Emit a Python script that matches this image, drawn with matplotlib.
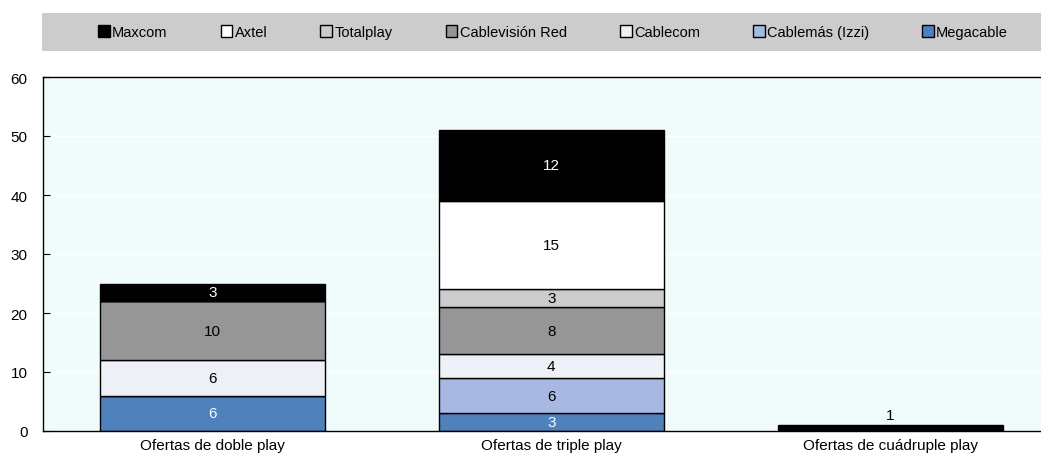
import matplotlib
matplotlib.use("Agg")
import matplotlib.pyplot as plt
from matplotlib.patches import Rectangle
from matplotlib import font_manager

fams = [f.name for f in font_manager.fontManager.ttflist]
base = 'Liberation Sans Narrow' if 'Liberation Sans Narrow' in fams else 'Liberation Sans'
plt.rcParams['font.family'] = [base, 'DejaVu Sans']

categories = ["Ofertas de doble play", "Ofertas de triple play", "Ofertas de cuádruple play"]
companies = ["Megacable", "Cablemás (Izzi)", "Cablecom", "Cablevisión Red", "Totalplay", "Axtel", "Maxcom"]
megacable = [6, 3, 0]
cablemas = [0, 6, 0]
cablecom = [6, 4, 0]
cablevision = [10, 8, 0]
totalplay = [0, 3, 0]
axtel = [0, 15, 0]
maxcom = [3, 12, 1]
colors = ["#4F81BD", "#A7B9E3", "#EDF0F7", "#969696", "#CCCCCC", "#FFFFFF", "#000000"]
text_colors = ["white", "black", "black", "black", "black", "black", "white"]

series = [megacable, cablemas, cablecom, cablevision, totalplay, axtel, maxcom]

fig = plt.figure(figsize=(10.41, 4.6), dpi=100)
ax = fig.add_axes([43/1041, 1-432/460, 1-43/1041, (432-78)/460])
ax.set_facecolor("#F0FCFC")
ax.set_axisbelow(True)
ax.yaxis.grid(True, color="white", linewidth=1.0)

x = list(range(len(categories)))
bottoms = [0]*len(categories)
handles = []
for vals, name, c, tc in zip(series, companies, colors, text_colors):
    bars = ax.bar(x, vals, width=0.665, bottom=bottoms, color=c, edgecolor="black",
                  linewidth=1.0, label=name)
    handles.append(bars)
    for i, v in enumerate(vals):
        if v > 0:
            if v < 2:
                ax.text(x[i], bottoms[i] + v + 0.6, str(v), ha="center", va="bottom",
                        fontsize=11, color="black")
            else:
                ax.text(x[i], bottoms[i] + v/2, str(v), ha="center", va="center",
                        fontsize=11, color=tc)
    bottoms = [b + v for b, v in zip(bottoms, vals)]

ax.set_xlim(-0.5, 2.445)
ax.set_ylim(0, 60)
ax.set_yticks(range(0, 61, 10))
ax.set_xticks(x)
ax.set_xticklabels(categories, fontsize=11)
ax.tick_params(axis="x", length=0, pad=5)
ax.tick_params(axis="y", direction="in", length=5, labelsize=11, pad=11)
for s in ["left", "bottom", "top"]:
    ax.spines[s].set_linewidth(1.0)
ax.spines["right"].set_visible(False)

fig.patches.append(Rectangle((42/1041, 1-52/460), 1-42/1041, 38/460,
                             transform=fig.transFigure, facecolor="#CCCCCC",
                             edgecolor="none", zorder=0))
leg = fig.legend(handles[::-1], companies[::-1], loc="center", ncol=7,
                 bbox_to_anchor=(553/1041, 1-33/460), frameon=False,
                 fontsize=10.5, handlelength=0.8, handleheight=0.8,
                 handletextpad=0.15, columnspacing=3.65)

fig.savefig("out.png", dpi=100)
